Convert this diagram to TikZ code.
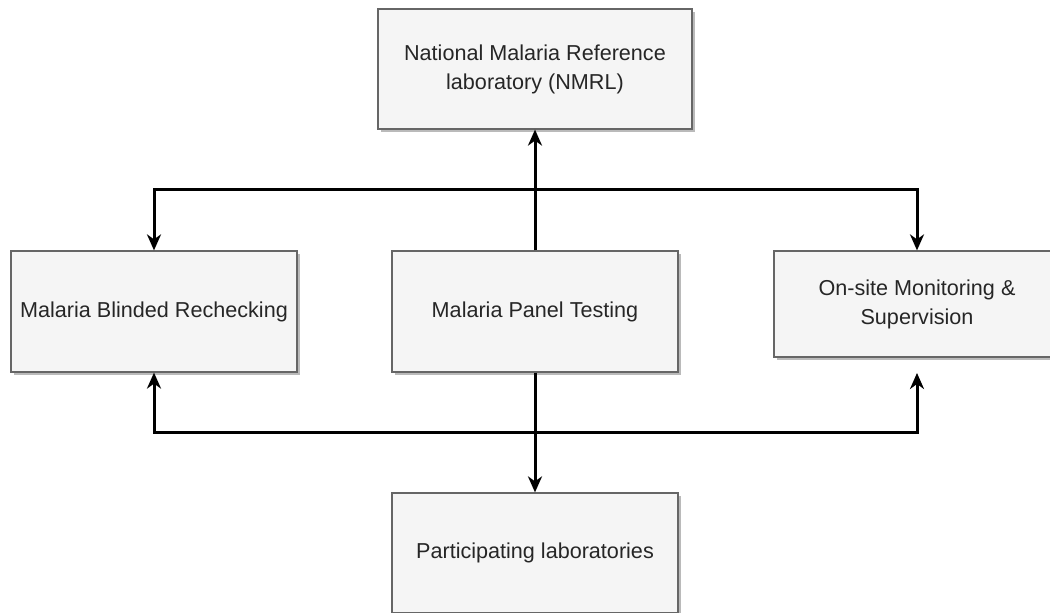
\documentclass[tikz,border=0pt]{standalone}
\usepackage{fontspec}
\setmainfont{Liberation Sans}
\usepackage{tikz}
\usetikzlibrary{positioning}
\usetikzlibrary{arrows.meta}
\usetikzlibrary{shadows}
\definecolor{boxfill}{HTML}{F5F5F5}
\definecolor{boxline}{HTML}{666666}
\definecolor{boxtext}{HTML}{262626}
\tikzset{
  block/.style={shape=rectangle,draw=boxline,line width=0.6pt,fill=boxfill,
    text=boxtext,align=center,inner sep=0,minimum width=143pt,minimum height=60.5pt,
    font=\fontsize{10.8}{14.5}\selectfont,
    drop shadow={shadow xshift=1.6pt,shadow yshift=-1.6pt,fill=black!45,opacity=.6}},
  link/.style={draw=black,line width=1.5pt,-{Stealth[length=8pt,width=7pt,inset=2.5pt]}}
}
\begin{document}
\begin{tikzpicture}[x=0.5pt,y=-0.5pt]
      \useasboundingbox (0,0) rectangle (1050,613);
      \node[block,minimum width=157pt,minimum height=60pt] (nmrl) at (535,69)
        {National Malaria Reference\\laboratory (NMRL)};
      \node[block] (panel) at (535,311.5) {Malaria Panel Testing};
      \node[block] (blind) at (154,311.5) {Malaria Blinded Rechecking};
      \node[block,minimum height=53pt] (onsite) at (917,304)
        {On-site Monitoring \&\\Supervision};
      \node[block,minimum height=60pt] (parti) at (535,553) {Participating laboratories};
      % branch points
      \coordinate (tophub) at (535,190);
      \coordinate (lowhub) at (535,433);
      \coordinate (onsiteback) at (917,373);
      \begin{scope}
        \draw[link] (panel.north) -- (nmrl.south);
        \draw[link] (tophub) -| (blind.north);
        \draw[link] (tophub) -| (onsite.north);
        \draw[link] (panel.south) -- (parti.north);
        \draw[link] (lowhub) -| (blind.south);
        \draw[link] (lowhub) -| (onsiteback);
      \end{scope}
    \end{tikzpicture}
\end{document}
